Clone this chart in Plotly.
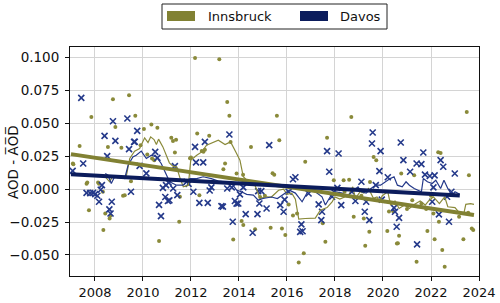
import plotly.graph_objects as go

# ---------------- data ----------------
inn_years = [2007.08, 2007.10, 2007.36, 2007.65, 2007.68, 2007.75, 2007.85, 2008.13, 2008.17, 2008.33,
             2008.35, 2008.43, 2008.54, 2008.61, 2008.65, 2008.75, 2008.85, 2009.10, 2009.17, 2009.24,
             2009.42, 2009.50, 2009.68, 2009.90, 2010.04, 2010.18, 2010.35, 2010.38, 2010.47, 2010.60,
             2010.67, 2011.18, 2011.25, 2011.33, 2011.38, 2011.51, 2011.54, 2011.96, 2012.00, 2012.17,
             2012.26, 2012.35, 2012.45, 2012.52, 2012.58, 2012.76, 2013.18, 2013.35, 2013.42, 2013.51,
             2013.60, 2013.65, 2013.76, 2013.90, 2014.11, 2014.17, 2014.18, 2014.50, 2014.67, 2014.88,
             2015.08, 2015.32, 2015.40, 2015.47, 2015.58, 2015.68, 2015.79, 2015.93, 2016.07, 2016.25,
             2016.42, 2016.49, 2016.70, 2016.76, 2017.49, 2017.60, 2017.67, 2017.95, 2018.36, 2018.40,
             2018.59, 2018.68, 2018.78, 2019.10, 2019.20, 2019.26, 2019.43, 2019.46, 2019.61, 2019.72,
             2020.18, 2020.25, 2020.43, 2020.58, 2020.62, 2020.67, 2020.76, 2021.00, 2021.22, 2021.30,
             2021.40, 2021.60, 2021.80, 2021.85, 2022.00, 2022.10, 2022.15, 2022.30, 2022.33, 2022.40,
             2022.47, 2022.57, 2023.17, 2023.35, 2023.49, 2023.55, 2023.58, 2023.70, 2023.76]
inn_aod = [0.0195, 0.0190, 0.0327, 0.0040, 0.0050, -0.0160, 0.0549, 0.0050, 0.0040, -0.0020,
           -0.0311, -0.0185, 0.0321, -0.0223, -0.0200, 0.0683, 0.0473, 0.0314, -0.0050, -0.0046,
           0.0714, 0.0060, 0.0557, 0.0334, 0.0456, 0.0263, 0.0491, 0.0233, 0.0220, 0.0466,
           -0.0395, 0.0390, 0.0365, 0.0278, 0.0375, -0.0248, -0.0058, 0.0235, 0.0240, 0.0997,
           0.0423, -0.0046, 0.0290, 0.0285, 0.0300, 0.0405, 0.0987, 0.0152, 0.0195, 0.0663,
           0.0557, 0.0359, -0.0382, 0.0119, -0.0243, 0.0110, -0.0273, 0.0321, -0.0304, -0.0060,
           -0.0050, -0.0294, 0.0120, 0.0110, 0.0557, 0.0372, -0.0299, -0.0349, -0.0116, -0.0200,
           -0.0185, -0.0557, -0.0488, 0.0208, -0.0260, -0.0400, 0.0390, 0.0068, 0.0068, -0.0020,
           0.0071, 0.0549, -0.0210, -0.0050, -0.0223, -0.0430, -0.0324, 0.0055, 0.0245, 0.0220,
           -0.0319, -0.0170, -0.0170, -0.0414, -0.0412, -0.0355, 0.0119, -0.0150, -0.0084, 0.0106,
           -0.0552, -0.0110, -0.0150, -0.0319, -0.0050, -0.0185, -0.0380, 0.0280, -0.0248, 0.0275,
           -0.0463, -0.0590, -0.0210, -0.0380, 0.0587, -0.0180, 0.0106, -0.0300, -0.0310]

dav_years = [2007.07, 2007.43, 2007.51, 2007.65, 2007.80, 2007.92, 2008.01, 2008.10, 2008.17, 2008.24,
             2008.29, 2008.40, 2008.51, 2008.60, 2008.65, 2008.70, 2008.75, 2008.85, 2009.35, 2009.42,
             2009.50, 2009.63, 2009.66, 2009.76, 2009.86, 2010.14, 2010.51, 2010.60, 2010.67, 2010.75,
             2010.83, 2010.93, 2010.96, 2011.04, 2011.07, 2011.10, 2011.26, 2011.33, 2011.43, 2011.82,
             2011.90, 2012.10, 2012.17, 2012.21, 2012.35, 2012.51, 2012.58, 2012.70, 2012.78, 2012.85,
             2013.27, 2013.33, 2013.51, 2013.60, 2013.70, 2013.74, 2013.83, 2013.90, 2013.97, 2014.04,
             2014.18, 2014.28, 2014.57, 2014.77, 2014.80, 2014.85, 2014.93, 2015.15, 2015.26, 2015.72,
             2015.86, 2015.90, 2016.07, 2016.25, 2016.35, 2016.55, 2016.60, 2016.65, 2016.90, 2017.32,
             2017.43, 2017.46, 2017.67, 2017.76, 2017.88, 2017.95, 2018.10, 2018.15, 2018.26, 2018.70,
             2018.85, 2019.10, 2019.24, 2019.30, 2019.43, 2019.54, 2019.57, 2019.70, 2019.85, 2019.90,
             2019.95, 2020.20, 2020.46, 2020.50, 2020.57, 2020.67, 2020.74, 2020.85, 2021.13, 2021.40,
             2021.42, 2021.60, 2021.68, 2021.75, 2021.95, 2022.05, 2022.10, 2022.15, 2022.33, 2022.40,
             2022.51, 2022.67, 2022.75, 2022.85, 2022.99]
dav_aod = [0.0139, 0.0693, 0.0195, -0.0028, -0.0030, -0.0028, -0.0038, -0.0050, -0.0096, -0.0005,
           0.0030, 0.0405, 0.0251, -0.0154, -0.0185, -0.0096, 0.0516, 0.0367, 0.0537, 0.0304,
           -0.0020, 0.0359, 0.0360, 0.0443, 0.0177, 0.0120, 0.0283, 0.0238, -0.0120, -0.0205,
           0.0010, -0.0060, 0.0030, -0.0090, 0.0050, -0.0085, 0.0005, 0.0175, -0.0046, 0.0056,
           0.0040, -0.0020, 0.0321, 0.0203, -0.0104, 0.0203, 0.0359, -0.0104, -0.0010, 0.0013,
           -0.0129, -0.0133, 0.0005, 0.0415, 0.0013, -0.0248, -0.0090, -0.0110, -0.0109, -0.0040,
           0.0013, -0.0190, -0.0331, -0.0190, -0.0015, -0.0109, -0.0015, -0.0147, 0.0334, -0.0121,
           -0.0172, -0.0080, -0.0020, 0.0075, 0.0090, -0.0325, -0.0268, -0.0320, -0.0033, -0.0116,
           -0.0235, -0.0172, 0.0289, 0.0132, -0.0058, -0.0020, 0.0010, 0.0271, -0.0121, -0.0020,
           -0.0090, 0.0056, -0.0172, -0.0096, -0.0235, 0.0347, 0.0430, 0.0030, 0.0137, 0.0289,
           -0.0080, 0.0090, -0.0142, -0.0172, -0.0286, -0.0218, 0.0354, 0.0220, 0.0132, 0.0195,
           -0.0420, 0.0190, 0.0278, 0.0110, 0.0100, -0.0096, 0.0013, 0.0105, -0.0192, 0.0220,
           0.0170, -0.0058, -0.0248, -0.0020, 0.0119]

inn_rm_years = [2008.43, 2008.61, 2008.75, 2008.96, 2009.30, 2009.45, 2009.65, 2009.86, 2010.07, 2010.21,
                2010.32, 2010.46, 2010.56, 2010.65, 2010.83, 2010.97, 2011.10, 2011.25, 2011.40, 2011.55,
                2011.68, 2011.89, 2011.99, 2012.24, 2012.45, 2012.65, 2012.93, 2013.14, 2013.42, 2013.65,
                2013.90, 2014.04, 2014.18, 2014.39, 2014.60, 2014.76, 2014.88, 2015.15, 2015.35, 2015.65,
                2015.86, 2016.00, 2016.20, 2016.35, 2016.49, 2016.76, 2017.18, 2017.39, 2017.67, 2017.88,
                2018.00, 2018.20, 2018.57, 2018.74, 2018.85, 2019.05, 2019.20, 2019.40, 2019.60, 2019.75,
                2019.85, 2019.97, 2020.20, 2020.32, 2020.50, 2020.67, 2020.90, 2021.10, 2021.30, 2021.55,
                2021.76, 2021.90, 2022.10, 2022.35, 2022.57, 2022.70, 2023.00, 2023.20, 2023.37, 2023.45,
                2023.65, 2023.79]
inn_rm = [0.0094, 0.0056, 0.0101, 0.0086, 0.0094, 0.0233, 0.0289, 0.0309, 0.0390, 0.0354,
          0.0397, 0.0377, 0.0339, 0.0380, 0.0321, 0.0263, 0.0200, 0.0175, 0.0170, 0.0080,
          0.0018, 0.0030, 0.0220, 0.0258, 0.0283, 0.0334, 0.0359, 0.0372, 0.0339, 0.0359,
          0.0271, 0.0220, 0.0094, 0.0056, 0.0060, -0.0020, -0.0070, -0.0058, -0.0060, -0.0008,
          0.0000, -0.0040, -0.0030, -0.0076, -0.0228, -0.0223, -0.0220, -0.0160, -0.0140, -0.0096,
          -0.0060, -0.0076, -0.0046, 0.0018, -0.0070, -0.0020, -0.0030, 0.0005, -0.0070, -0.0060,
          -0.0090, -0.0050, -0.0020, -0.0121, -0.0090, -0.0147, -0.0121, -0.0147, -0.0116, -0.0090,
          -0.0121, -0.0090, -0.0058, -0.0110, -0.0058, -0.0134, -0.0140, -0.0185, -0.0185, -0.0116,
          -0.0110, -0.0116]

dav_rm_years = [2008.43, 2008.54, 2008.68, 2008.82, 2009.24, 2009.38, 2009.58, 2009.72, 2009.93, 2010.14,
                2010.35, 2010.56, 2010.76, 2010.93, 2011.11, 2011.40, 2011.68, 2011.96, 2012.24, 2012.51,
                2012.85, 2013.14, 2013.42, 2013.70, 2013.90, 2014.10, 2014.32, 2014.60, 2014.80, 2015.00,
                2015.35, 2015.60, 2015.93, 2016.10, 2016.35, 2016.63, 2016.90, 2017.18, 2017.46, 2017.60,
                2017.80, 2018.00, 2018.30, 2018.50, 2018.70, 2018.96, 2019.10, 2019.30, 2019.50, 2019.70,
                2019.90, 2020.10, 2020.30, 2020.46, 2020.60, 2020.80, 2020.96, 2021.10, 2021.30, 2021.60,
                2021.68, 2021.85, 2022.05, 2022.20, 2022.40, 2022.54, 2022.70, 2022.88, 2023.00, 2023.20]
dav_rm = [0.0119, 0.0106, 0.0043, 0.0094, 0.0081, 0.0182, 0.0245, 0.0258, 0.0289, 0.0233,
          0.0258, 0.0245, 0.0195, 0.0132, 0.0056, 0.0030, 0.0030, 0.0081, 0.0080, 0.0094,
          0.0080, 0.0061, 0.0056, 0.0043, -0.0008, -0.0020, -0.0040, -0.0046, -0.0084, -0.0071,
          -0.0060, -0.0071, -0.0033, -0.0008, -0.0030, -0.0096, -0.0008, -0.0020, -0.0058, -0.0121,
          -0.0058, -0.0020, -0.0030, -0.0060, -0.0020, 0.0018, -0.0020, -0.0030, 0.0005, 0.0030,
          0.0030, 0.0056, 0.0080, 0.0094, 0.0030, 0.0018, 0.0056, 0.0030, 0.0005, -0.0020,
          0.0081, 0.0056, 0.0043, 0.0068, 0.0005, 0.0068, 0.0005, -0.0046, -0.0020, -0.0040]

inn_trend_years = [2007.0, 2023.79]
inn_trend = [0.0266, -0.0197]
dav_trend_years = [2007.0, 2023.2]
dav_trend = [0.0114, -0.0048]

y_ticks = [-0.05, -0.025, 0.0, 0.025, 0.05, 0.075, 0.1]
x_ticks = [2008, 2010, 2012, 2014, 2016, 2018, 2020, 2022, 2024]
series_names = ["Innsbruck", "Davos"]

# ---------------- style ----------------
OLIVE = "#818133"
OLIVE_PT = "#8a8a3a"
NAVY = "#0b1c5c"
NAVY_PT = "#24398a"
FONT = "DejaVu Sans"

W, H = 500, 303
L, R, T, B = 70, 21, 47, 27

fig = go.Figure()
fig.add_trace(go.Scatter(x=inn_years, y=inn_aod, mode="markers",
                         marker=dict(color=OLIVE_PT, size=4, line=dict(width=0)),
                         showlegend=False, hoverinfo="skip"))
fig.add_trace(go.Scatter(x=dav_years, y=dav_aod, mode="markers",
                         marker=dict(symbol="x-thin", color=NAVY_PT, size=6,
                                     line=dict(color=NAVY_PT, width=1.6)),
                         showlegend=False, hoverinfo="skip"))
fig.add_trace(go.Scatter(x=inn_rm_years, y=inn_rm, mode="lines",
                         line=dict(color=OLIVE_PT, width=1.2), showlegend=False))
fig.add_trace(go.Scatter(x=dav_rm_years, y=dav_rm, mode="lines",
                         line=dict(color=NAVY_PT, width=1.2), showlegend=False))
fig.add_trace(go.Scatter(x=inn_trend_years, y=inn_trend, mode="lines",
                         line=dict(color=OLIVE, width=4), showlegend=False))
fig.add_trace(go.Scatter(x=dav_trend_years, y=dav_trend, mode="lines",
                         line=dict(color=NAVY, width=4), showlegend=False))

pw, ph = W - L - R, H - T - B


def px(xp):
    return (xp - L) / pw


def py(yp):
    return (H - B - yp) / ph


shapes = [
    dict(type="rect", xref="paper", yref="paper", x0=px(162), x1=px(387), y0=py(29), y1=py(4),
         line=dict(color="#222", width=1), fillcolor="white", layer="above"),
    dict(type="rect", xref="paper", yref="paper", x0=px(167), x1=px(195), y0=py(21), y1=py(11),
         line=dict(width=0), fillcolor=OLIVE, layer="above"),
    dict(type="rect", xref="paper", yref="paper", x0=px(300), x1=px(328), y0=py(21), y1=py(11),
         line=dict(width=0), fillcolor=NAVY, layer="above"),
]
annotations = [
    dict(xref="paper", yref="paper", x=px(206), y=py(16), text=series_names[0], showarrow=False,
         xanchor="left", yanchor="middle", font=dict(family=FONT, size=13, color="#111")),
    dict(xref="paper", yref="paper", x=px(338), y=py(16), text=series_names[1], showarrow=False,
         xanchor="left", yanchor="middle", font=dict(family=FONT, size=13, color="#111")),
    dict(xref="paper", yref="paper", x=px(13), y=py(162), text="AOD - A\u0305O\u0305D\u0305",
         showarrow=False, textangle=-90, xanchor="center", yanchor="middle",
         font=dict(family=FONT, size=13.5, color="#111")),
]

fig.update_layout(
    width=W, height=H,
    margin=dict(l=L, r=R, t=T, b=B, autoexpand=False),
    paper_bgcolor="white", plot_bgcolor="white",
    font=dict(family=FONT, size=13, color="#111"),
    shapes=shapes, annotations=annotations,
    showlegend=False,
)
fig.update_xaxes(range=[2006.96, 2024.0], tickvals=x_ticks, ticks="outside", ticklen=4,
                 tickcolor="#111", showline=True, linecolor="#111", linewidth=1, mirror=True,
                 showgrid=True, gridcolor="#d4d4d4", gridwidth=1, zeroline=False,
                 tickfont=dict(family=FONT, size=13, color="#111"))
fig.update_yaxes(range=[-0.066, 0.108], tickvals=y_ticks, tickformat=".3f", ticks="outside",
                 ticklen=4, tickcolor="#111", showline=True, linecolor="#111", linewidth=1,
                 mirror=True, showgrid=True, gridcolor="#d4d4d4", gridwidth=1, zeroline=False,
                 ticklabelstandoff=3,
                 tickfont=dict(family=FONT, size=13.5, color="#111"))

fig.write_html("out.html", config={"displayModeBar": False},
               post_script="document.body.style.margin='0';document.body.style.overflow='hidden';")
